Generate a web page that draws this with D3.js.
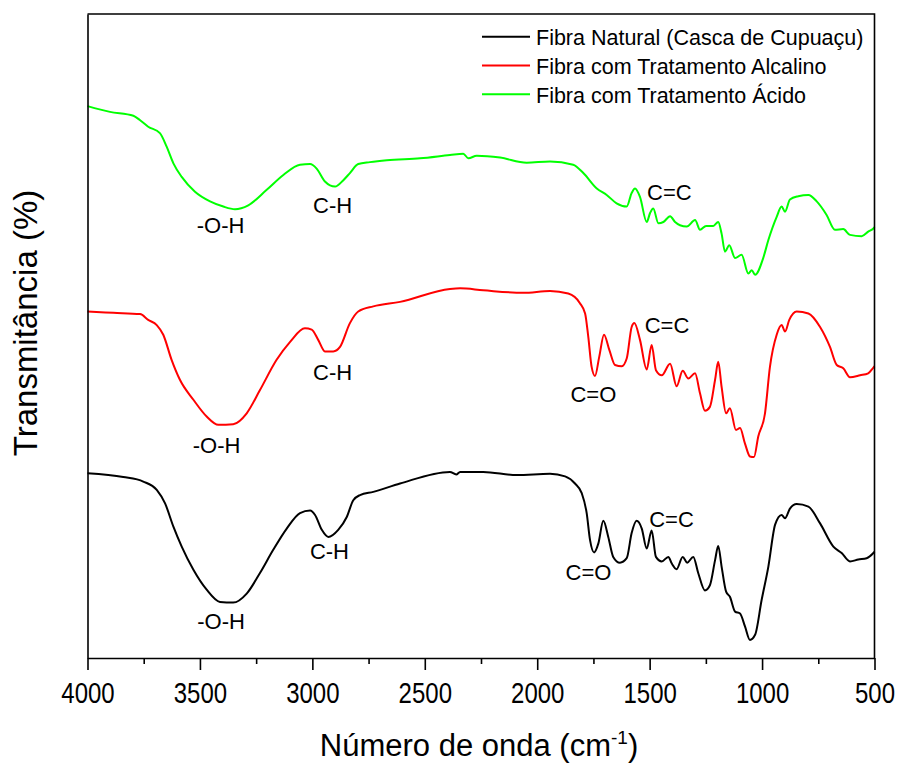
<!DOCTYPE html>
<html>
<head>
<meta charset="utf-8">
<script src="https://cdn.jsdelivr.net/npm/d3@7"></script>
<style>
  body { margin: 0; background: #fff; }
  svg { display: block; font-family: Arial, "Liberation Sans", sans-serif; }
  .axis path, .axis line { stroke: #000; stroke-width: 1.6px; }
</style>
</head>
<body>
<div id="chart"></div>
<script>
// wavenumber (cm-1) and transmittance readings for each spectrum
const natWn  = [4000,3841,3752,3692,3655,3618,3581,3529,3470,3411,3352,3292,3233,3174,3114,3055,3010,2988,2958,2929,2885,2847,2818,2788,2729,2610,2388,2360,2343,2240,2091,1943,1876,1832,1802,1780,1765,1747,1728,1706,1684,1662,1632,1602,1580,1558,1535,1513,1491,1472,1446,1417,1402,1380,1353,1333,1306,1284,1254,1232,1209,1195,1180,1160,1143,1120,1098,1076,1054,1031,1002,972,942,913,898,876,846,794,742,683,646,609,572,535,505,500];
const natT   = [28.7,28.1,27.4,26.1,24.0,20.4,17.3,13.7,10.6,8.7,8.6,10.0,13.2,16.8,20.1,22.5,22.9,22.2,19.9,18.8,19.9,21.9,24.5,25.3,25.8,27.1,28.9,28.5,28.9,28.9,28.4,28.6,28.2,27.1,25.6,22.5,18.3,16.4,17.8,21.3,18.8,15.7,14.8,15.5,19.4,21.3,20.1,17.0,19.8,15.7,15.0,15.7,14.7,13.8,15.7,14.8,15.7,13.2,10.5,11.3,15.2,17.4,14.2,10.3,9.5,7.2,6.9,4.9,2.8,3.6,9.0,14.2,20.7,22.2,21.7,23.2,23.9,23.5,20.9,17.3,16.3,15.0,15.3,15.5,16.3,16.5];

const alkWn  = [4000,3885,3766,3730,3692,3663,3626,3589,3529,3470,3418,3352,3292,3233,3159,3099,3033,3003,2974,2944,2907,2877,2833,2796,2729,2610,2388,2343,2240,2062,1943,1862,1810,1787,1773,1758,1743,1724,1703,1679,1654,1624,1602,1580,1568,1543,1513,1491,1472,1446,1409,1380,1353,1328,1298,1276,1254,1232,1209,1195,1180,1160,1143,1116,1098,1076,1054,1036,1017,987,965,935,913,898,879,846,794,742,698,668,639,609,564,528,505,500];
const alkT   = [53.8,53.6,53.4,52.5,51.7,50.2,46.3,43.2,40.1,37.5,36.2,36.3,38.0,41.6,46.3,49.1,51.2,51.0,49.4,47.6,47.6,48.3,52.0,53.8,54.6,55.3,57.3,57.4,57.1,56.7,57.0,56.6,55.1,53.5,49.9,45.2,43.8,46.8,50.2,47.8,45.5,45.3,46.5,51.4,52.0,49.4,44.8,48.6,44.7,43.9,45.7,42.2,44.6,43.4,44.2,41.1,38.4,39.0,43.2,46.0,42.1,38.0,38.8,35.4,35.7,33.3,31.3,31.2,34.4,38.0,45.2,50.2,51.7,50.7,52.5,53.8,53.5,51.4,48.3,45.5,45.0,43.6,43.9,44.2,45.1,45.3];

const acidWn = [4000,3900,3796,3766,3730,3678,3648,3618,3581,3522,3455,3396,3344,3285,3203,3129,3055,3010,2981,2944,2899,2862,2833,2796,2744,2669,2521,2388,2329,2306,2269,2165,2047,1943,1840,1795,1735,1691,1647,1602,1580,1565,1543,1513,1498,1484,1461,1439,1409,1387,1365,1335,1298,1276,1249,1217,1195,1180,1165,1146,1120,1091,1061,1046,1031,995,972,935,913,898,876,839,794,757,713,676,639,609,557,528,505,500];
const acidT  = [85.7,84.8,84.2,83.5,82.5,81.5,79.4,76.8,74.7,72.4,70.9,70.1,69.7,70.3,72.7,75.0,76.6,76.7,76.0,74.0,73.2,74.2,75.3,76.7,77.0,77.3,77.6,78.1,78.3,77.6,78.0,77.7,76.9,77.1,76.6,75.3,72.9,71.9,70.6,70.1,72.2,72.9,71.6,67.7,69.1,69.8,67.5,67.7,68.6,67.7,67.2,67.0,68.0,66.5,67.1,67.1,67.7,65.9,63.1,64.1,62.1,62.6,59.7,60.2,59.5,62.1,64.9,68.5,70.1,69.3,71.2,71.7,71.9,70.9,68.8,66.5,66.6,65.7,65.5,66.2,66.7,66.9];

const seriesNames  = ["Fibra Natural (Casca de Cupuaçu)", "Fibra com Tratamento Alcalino", "Fibra com Tratamento Ácido"];
const seriesColors = ["#000000", "#ff0000", "#00ff00"];

// band labels: text, wavenumber, transmittance of the label baseline
const bandText = ["-O-H","C-H","C=C","-O-H","C-H","C=C","C=O","-O-H","C-H","C=C","C=O"];
const bandWn   = [3408,2910,1412,3426,2910,1423,1750,3406,2924,1403,1772];
const bandT    = [66.0,69.1,71.1,31.8,43.2,50.5,39.8,4.5,15.4,20.3,12.1];

const majorTicks = [4000,3500,3000,2500,2000,1500,1000,500];
const minorTicks = [3750,3250,2750,2250,1750,1250,750];

const W = 898, H = 765;
const margin = { top: 14, right: 23.5, bottom: 107, left: 87.5 };
const width = W - margin.left - margin.right;
const height = H - margin.top - margin.bottom;

const svg = d3.select("#chart").append("svg")
    .attr("width", W)
    .attr("height", H);

const g = svg.append("g")
    .attr("transform", "translate(" + margin.left + "," + margin.top + ")");

const x = d3.scaleLinear().domain([4000, 500]).range([0, width]);
const y = d3.scaleLinear().domain([0, 100]).range([height, 0]);

const series = [
  { name: seriesNames[0], color: seriesColors[0], pts: d3.zip(natWn, natT) },
  { name: seriesNames[1], color: seriesColors[1], pts: d3.zip(alkWn, alkT) },
  { name: seriesNames[2], color: seriesColors[2], pts: d3.zip(acidWn, acidT) }
];

// points run 4000 -> 500, i.e. left to right on screen
const line = d3.line()
    .x(d => x(d[0]))
    .y(d => y(d[1]))
    .curve(d3.curveMonotoneX);

g.selectAll(".spectrum")
  .data(series)
  .enter().append("path")
    .attr("class", "spectrum")
    .attr("fill", "none")
    .attr("stroke", d => d.color)
    .attr("stroke-width", 2)
    .attr("stroke-linejoin", "round")
    .attr("d", d => line(d.pts));

// frame (top and right)
g.append("path")
    .attr("d", "M0,0H" + width + "V" + height)
    .attr("fill", "none")
    .attr("stroke", "#000")
    .attr("stroke-width", 1.6);

// left axis, no ticks
g.append("g")
    .attr("class", "axis")
    .call(d3.axisLeft(y).tickValues([]).tickSizeOuter(0));

// bottom axis
g.append("g")
    .attr("class", "axis")
    .attr("transform", "translate(0," + height + ")")
    .call(d3.axisBottom(x).tickValues(minorTicks).tickSize(6).tickFormat(""))
    .select(".domain").remove();

const xAxisG = g.append("g")
    .attr("class", "axis")
    .attr("transform", "translate(0," + height + ")")
    .call(d3.axisBottom(x).tickValues(majorTicks).tickSize(12).tickSizeOuter(0).tickFormat(d3.format("d")));

xAxisG.selectAll("text")
    .attr("y", 45.5 / 1.2)
    .attr("dy", 0)
    .attr("transform", "scale(1,1.2)")
    .attr("fill", "#000")
    .style("font-size", "24px")
    .style("font-family", "Arial, 'Liberation Sans', sans-serif");

// band annotations
g.selectAll(".band")
  .data(bandText)
  .enter().append("text")
    .attr("class", "band")
    .attr("text-anchor", "middle")
    .attr("x", (d, i) => x(bandWn[i]))
    .attr("y", (d, i) => y(bandT[i]))
    .style("font-size", "22px")
    .text(d => d);

// legend
const legend = svg.append("g")
    .attr("transform", "translate(482,36.7)");

const item = legend.selectAll(".item")
  .data(series)
  .enter().append("g")
    .attr("class", "item")
    .attr("transform", (d, i) => "translate(0," + (i * 28.8) + ")");

item.append("line")
    .attr("x1", 0).attr("x2", 48)
    .attr("stroke", d => d.color)
    .attr("stroke-width", 2);

item.append("text")
    .attr("x", 54)
    .attr("y", 8.2)
    .style("font-size", "21.5px")
    .text(d => d.name);

// axis titles
svg.append("text")
    .attr("text-anchor", "middle")
    .attr("transform", "translate(37,323) rotate(-90)")
    .style("font-size", "33px")
    .text("Transmitância (%)");

const xt = svg.append("text")
    .attr("text-anchor", "middle")
    .attr("x", 479)
    .attr("y", 756)
    .style("font-size", "31px");
xt.append("tspan").text("Número de onda (cm");
xt.append("tspan").attr("dy", -12).style("font-size", "19px").text("-1");
xt.append("tspan").attr("dy", 12).text(")");
</script>
</body>
</html>
